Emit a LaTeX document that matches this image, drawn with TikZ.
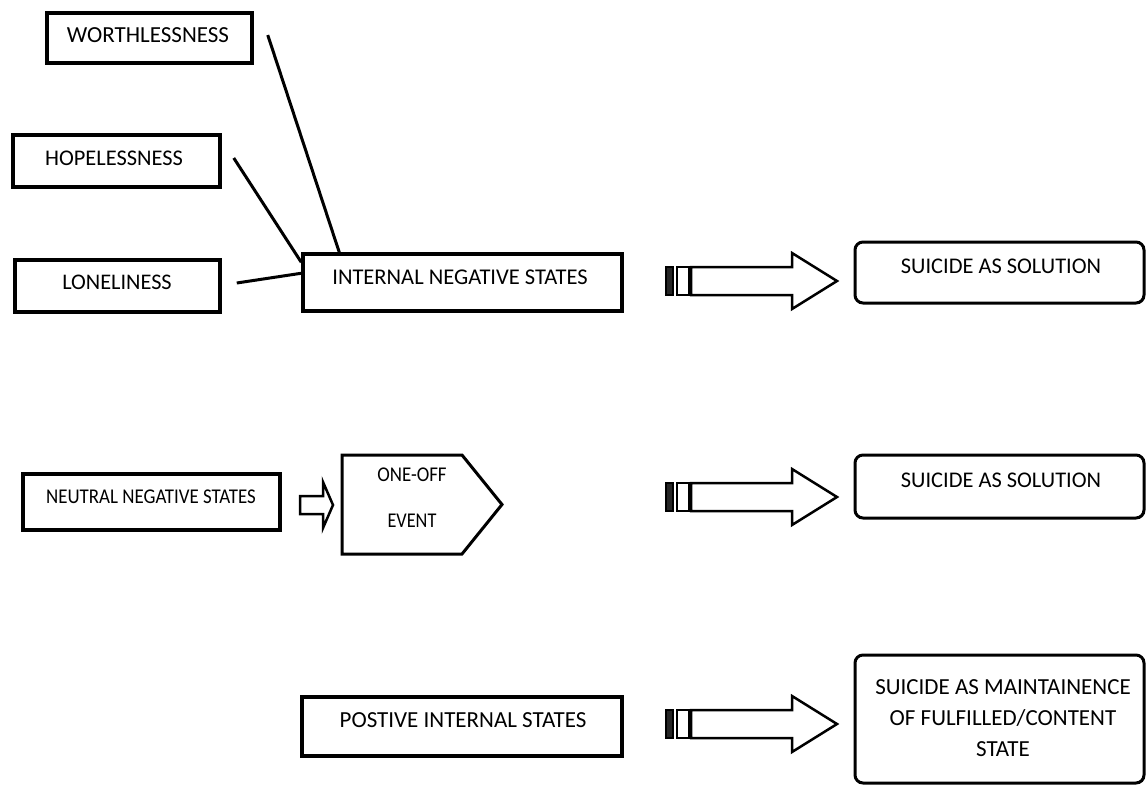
\documentclass[tikz,border=0pt]{standalone}
\usepackage{fontspec}
\setmainfont{Carlito}
\usetikzlibrary{calc}
\tikzset{
  sqbox/.style={draw=black, line width=3.5pt, minimum width=#1, inner sep=0pt},
  rdbox/.style={draw=black, line width=3pt, rounded corners=8pt, inner sep=0pt},
  txt/.style={inner sep=0pt, font=\fontsize{#1}{26}\selectfont},
  txt/.default=22.5,
  link/.style={draw=black, line width=3pt},
  outl/.style={draw=black, line width=2.5pt, fill=white, line join=miter},
  pics/sarrow/.style={code={
    \draw[outl, fill=black!85] (0,-14) rectangle (7,14);
    \draw[outl] (11,-14) rectangle (23,14);
    \draw[outl] (25,-14) -- (126,-14) -- (126,-28) -- (171,0) -- (126,28) -- (126,14) -- (25,14) -- cycle;
  }},
  pics/smallarrow/.style={code={
    \draw[outl] (0,-9) -- (23,-9) -- (23,-23) -- (33,0) -- (23,23) -- (23,9) -- (0,9) -- cycle;
  }}
}
\begin{document}
\begin{tikzpicture}[x=1pt,y=-1pt]
\useasboundingbox (0,0) rectangle (1146,785);
% left boxes
\node[sqbox=205, minimum height=50] (wb) at (149.5,38) {};
\node[txt=23] at (148,35) {WORTHLESSNESS};
\node[sqbox=207, minimum height=52] (hb) at (116.5,161) {};
\node[txt=22.4] at (114,158) {HOPELESSNESS};
\node[sqbox=205, minimum height=52] (lb) at (117.5,286) {};
\node[txt=22.3] at (117,282) {LONELINESS};
\node[sqbox=319, minimum height=57] (ins) at (462.5,282.5) {};
\node[txt] at (460,277) {INTERNAL NEGATIVE STATES};
% connectors
\coordinate (wstart) at ($(wb.east)+(14,-3)$);
\coordinate (hstart) at ($(hb.east)+(12,-3)$);
\coordinate (lstart) at ($(lb.east)+(15,-3)$);
\draw[link] (wstart) -- ([xshift=38pt]ins.north west);
\draw[link] (hstart) -- ([yshift=-10pt]ins.north west);
\draw[link] (lstart) -- ([yshift=-21pt]ins.north west);
% right boxes
\node[rdbox, minimum width=289, minimum height=61] (s1) at (999.5,272.5) {};
\node[txt=22.4] at (1001,266) {SUICIDE AS SOLUTION};
\node[rdbox, minimum width=289, minimum height=63] (s2) at (999.5,486.5) {};
\node[txt=22.4] at (1001,480) {SUICIDE AS SOLUTION};
\node[rdbox, minimum width=289, minimum height=128] (s3) at (999.5,719) {};
\node[txt, align=center, font=\fontsize{23}{31}\selectfont] at (1003,718) {SUICIDE AS MAINTAINENCE\\OF FULFILLED/CONTENT\\STATE};
% row 2
\node[sqbox=257, minimum height=56] (nn) at (151.5,502) {};
\node[txt=21, xscale=0.9] at (151,497) {NEUTRAL NEGATIVE STATES};
\pic at (300,505) {smallarrow};
\draw[draw=black, line width=3pt, line join=miter] (342,455) -- (462,455) -- (502,504.5) -- (462,554) -- (342,554) -- cycle;
\coordinate (oe) at (420,504.5);
\node[txt=21, xscale=0.9] at (412,475) {ONE-OFF};
\node[txt=21, xscale=0.87] at (412,521) {EVENT};
% row 3
\node[sqbox=320, minimum height=59] (pis) at (462,726.5) {};
\node[txt=23] at (463,720) {POSTIVE INTERNAL STATES};
% striped arrows
\pic at (666,281) {sarrow};
\pic at (666,497) {sarrow};
\pic at (666,724) {sarrow};
\end{tikzpicture}
\end{document}
